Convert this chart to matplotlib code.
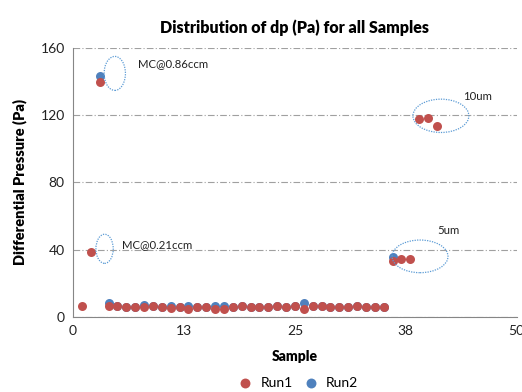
import numpy as np
import matplotlib
matplotlib.use("Agg")
from matplotlib import pyplot as plt
from matplotlib.patches import Ellipse

plt.rcParams['font.family'] = ['Lato', 'DejaVu Sans']

# sample numbers and differential pressure readings (Pa)
samples_run1 = list(range(1, 42))
dp_run1 = [6.7, 38.6, 139.7,
           6.8, 6.6, 5.8, 6.0, 6.2, 6.8, 6.2, 5.2, 5.8, 5.0, 5.8, 6.0,
           4.8, 5.0, 6.2, 6.9, 6.2, 6.2, 6.2, 6.8, 6.0, 6.8, 4.6, 6.8,
           6.6, 6.0, 5.8, 6.0, 6.8, 6.0, 6.0, 6.0,
           33.3, 34.3, 34.3, 117.7, 118.6, 113.7]

samples_run2 = list(range(3, 37))
dp_run2 = [143.0,
           8.2, 6.6, 5.8, 6.0, 7.4, 6.8, 6.2, 6.9, 5.8, 6.9, 5.8, 6.0,
           6.8, 6.8, 6.2, 6.9, 6.2, 6.2, 6.2, 6.8, 6.0, 6.8, 8.2, 6.8,
           6.6, 6.0, 5.8, 6.0, 6.8, 6.0, 6.0, 6.0,
           35.6]

# annotation shapes: (x, y, width, height) and labels
notes = [
    ("MC@0.86ccm", (4.7, 144.8, 2.4, 20.2), (7.3, 150.6)),
    ("MC@0.21ccm", (3.55, 40.6, 1.95, 17.3), (5.5, 42.9)),
    ("10um", (41.45, 119.6, 6.3, 19.8), (43.9, 130.8)),
    ("5um", (39.1, 36.1, 6.3, 19.4), (41.0, 51.2)),
]

red = '#C0504D'
blue = '#4F81BD'

fig = plt.figure(figsize=(5.22, 3.92), dpi=100)
ax = fig.add_axes([0.14, 0.191, 0.85, 0.687])

ax.scatter(samples_run2, dp_run2, s=42, color=blue, label='Run2', zorder=3, linewidths=0)
ax.scatter(samples_run1, dp_run1, s=42, color=red, label='Run1', zorder=4, linewidths=0)

for txt, (ex, ey, ew, eh), (tx, ty) in notes:
    ax.add_patch(Ellipse((ex, ey), ew, eh, fill=False, edgecolor='#5B9BD5',
                         linestyle=(0, (1, 1)), linewidth=0.9, zorder=5))
    ax.text(tx, ty, txt, fontsize=8.2, va='center', ha='left', color='#222222')

ax.set_xlim(0, 50)
ax.set_ylim(0, 160)
ax.set_xticks([0, 12.5, 25, 37.5, 50])
ax.set_xticklabels(['0', '13', '25', '38', '50'])
ax.set_yticks([0, 40, 80, 120, 160])
ax.yaxis.grid(True, color='#A0A0A0', linestyle=(0, (6, 2, 1, 2)), linewidth=0.8)
ax.set_axisbelow(True)

for s in ['top', 'right']:
    ax.spines[s].set_visible(False)
for s in ['left', 'bottom']:
    ax.spines[s].set_color('#868686')
ax.tick_params(axis='both', length=0, labelsize=10, colors='#222222', pad=6)

ax.set_title('Distribution of dp (Pa) for all Samples', fontsize=11.5, fontweight='heavy', pad=11)
ax.set_xlabel('Sample', fontsize=10, fontweight='heavy', labelpad=9)
ax.set_ylabel('Differential Pressure (Pa)', fontsize=10.5, fontweight='heavy', labelpad=10)

h, l = ax.get_legend_handles_labels()
ax.legend(h[::-1], l[::-1], loc='center', bbox_to_anchor=(0.5, -0.245), ncol=2,
          frameon=False, fontsize=10, handletextpad=0.1, columnspacing=0.3,
          markerscale=1.1, borderpad=0.1)

fig.savefig('out.png', dpi=100)
